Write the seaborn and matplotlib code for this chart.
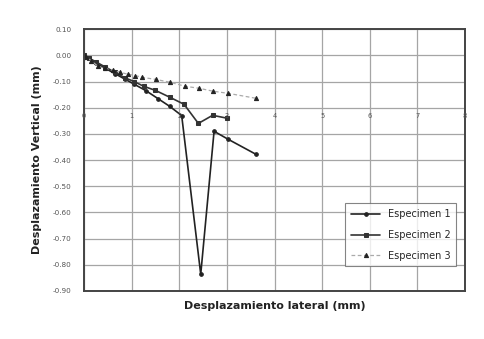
import matplotlib
matplotlib.use("Agg")
import matplotlib.pyplot as plt
import seaborn as sns
import pandas as pd

# Data
s1_x = [0, 0.1, 0.25, 0.45, 0.65, 0.85, 1.05, 1.3, 1.55, 1.8, 2.05, 2.45, 2.73, 3.02, 3.61]
s1_y = [0, -0.012, -0.03, -0.05, -0.07, -0.09, -0.11, -0.135, -0.165, -0.195, -0.23, -0.836, -0.29, -0.32, -0.378]
s2_x = [0, 0.1, 0.25, 0.45, 0.65, 0.85, 1.05, 1.25, 1.5, 1.8, 2.1, 2.4, 2.7, 3.0]
s2_y = [0, -0.01, -0.025, -0.045, -0.065, -0.085, -0.1, -0.118, -0.134, -0.16, -0.187, -0.26, -0.229, -0.24]
s3_x = [0, 0.05, 0.15, 0.29, 0.44, 0.61, 0.76, 0.92, 1.07, 1.22, 1.51, 1.81, 2.12, 2.42, 2.71, 3.02, 3.61]
s3_y = [0, -0.008, -0.02, -0.042, -0.05, -0.057, -0.065, -0.072, -0.077, -0.084, -0.092, -0.103, -0.118, -0.126, -0.137, -0.145, -0.164]
series_names = ["Especimen 1", "Especimen 2", "Especimen 3"]
x_ticks = [0, 1, 2, 3, 4, 5, 6, 7, 8]
y_ticks = [0.10, 0.00, -0.10, -0.20, -0.30, -0.40, -0.50, -0.60, -0.70, -0.80, -0.90]
y_tick_labels = ["0.10", "0.00", "-0.10", "-0.20", "-0.30", "-0.40", "-0.50", "-0.60", "-0.70", "-0.80", "-0.90"]
x_label = "Desplazamiento lateral (mm)"
y_label = "Desplazamiento Vertical (mm)"

sns.set_style("white")
plt.rcParams['font.family'] = ['DejaVu Sans']

fig = plt.figure(figsize=(4.84, 3.39), dpi=100)
ax = fig.add_axes([0.1736, 0.1416, 0.7874, 0.7724])

df1 = pd.DataFrame({"x": s1_x, "y": s1_y})
df2 = pd.DataFrame({"x": s2_x, "y": s2_y})
df3 = pd.DataFrame({"x": s3_x, "y": s3_y})

sns.lineplot(data=df1, x="x", y="y", ax=ax, sort=False, estimator=None, color="#222222",
             lw=1.2, marker="o", markersize=2.6, markeredgecolor="#222222", label=series_names[0])
sns.lineplot(data=df2, x="x", y="y", ax=ax, sort=False, estimator=None, color="#333333",
             lw=1.2, marker="s", markersize=3.0, markeredgecolor="#333333", label=series_names[1])
sns.lineplot(data=df3, x="x", y="y", ax=ax, sort=False, estimator=None, color="#aaaaaa",
             lw=0.9, ls=(0, (3, 2)), marker="^", markersize=3.0, markerfacecolor="#222222",
             markeredgecolor="#222222", label=series_names[2])

ax.set_xlim(0, 8)
ax.set_ylim(-0.90, 0.10)
ax.set_xticks(x_ticks)
ax.set_yticks(y_ticks)
ax.set_yticklabels(y_tick_labels, fontsize=5.2, color="#555555")
ax.set_xticklabels([])
ax.tick_params(axis="both", length=0, pad=9)
for xv in x_ticks:
    ax.text(xv, -0.233, str(xv), fontsize=4.8, color="#555555", ha="center", va="center")

ax.grid(True, color="#a5a5a5", lw=0.9)
for sp in ax.spines.values():
    sp.set_color("#444444")
    sp.set_linewidth(1.4)

ax.set_xlabel(x_label, fontsize=8, fontweight="bold", color="#222222", labelpad=-2)
ax.set_ylabel(y_label, fontsize=8, fontweight="bold", color="#222222", labelpad=8)

leg = ax.legend(loc="lower right", bbox_to_anchor=(0.99, 0.075), fontsize=7, frameon=True,
                fancybox=False, edgecolor="#666666", handlelength=3.0, borderpad=0.6,
                labelspacing=1.1)
leg.get_frame().set_linewidth(0.8)

fig.savefig("out.png", dpi=100, facecolor="white")
